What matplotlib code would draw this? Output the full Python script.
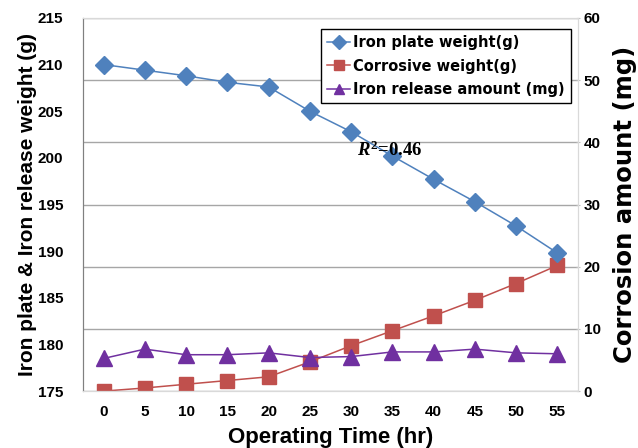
import matplotlib
matplotlib.use("Agg")
import matplotlib.pyplot as plt
import numpy as np

HOURS = ["0", "5", "10", "15", "20", "25", "30", "35", "40", "45", "50", "55"]
IRON_PLATE_G = [210.0, 209.4, 208.8, 208.1, 207.6, 205.0, 202.8, 200.2, 197.7, 195.3, 192.7, 189.8]
IRON_RELEASE = [178.5, 179.5, 178.9, 178.9, 179.1, 178.6, 178.7, 179.2, 179.2, 179.5, 179.1, 179.0]
CORROSIVE = [0.0, 0.5, 1.1, 1.7, 2.3, 4.7, 7.3, 9.7, 12.1, 14.6, 17.3, 20.2]

COLORS = {
    "plate": "#4F81BD",
    "corrosive": "#C0504D",
    "release": "#7030A0",
}

plt.rcParams["font.family"] = ["Liberation Sans", "DejaVu Sans"]
# R^2 note is set in a Times-like bold serif
plt.rcParams["mathtext.fontset"] = "custom"
plt.rcParams["mathtext.it"] = "Liberation Serif:italic:bold"
plt.rcParams["mathtext.bf"] = "Liberation Serif:bold"
plt.rcParams["mathtext.rm"] = "Liberation Serif:bold"

fig = plt.figure(figsize=(6.38, 4.48), dpi=100)
ax1 = fig.add_axes([0.130, 0.127, 0.776, 0.833])
ax2 = ax1.twinx()
ax1.set_zorder(ax2.get_zorder() + 1)
ax1.patch.set_visible(False)

x = np.arange(len(HOURS))

l1, = ax1.plot(x, IRON_PLATE_G, color=COLORS["plate"], linewidth=1.1, marker="D",
               markersize=9, label="Iron plate weight(g)")
l3, = ax1.plot(x, IRON_RELEASE, color=COLORS["release"], linewidth=1.1, marker="^",
               markersize=11, label="Iron release amount (mg)")
l2, = ax2.plot(x, CORROSIVE, color=COLORS["corrosive"], linewidth=1.1, marker="s",
               markersize=10, label="Corrosive weight(g)")

ax1.set_xlim(-0.5, len(HOURS) - 0.5)
ax1.set_ylim(175, 215)
ax1.set_yticks(np.arange(175, 216, 5))
ax2.set_ylim(0, 60)
ax2.set_yticks(np.arange(0, 61, 10))
ax1.set_xticks(x)
ax1.set_xticklabels(HOURS)

ax2.grid(True, axis="y", color="#A6A6A6", linewidth=1.0)
ax2.set_axisbelow(True)

for ax in (ax1, ax2):
    for side in ("top", "right", "bottom"):
        ax.spines[side].set_color("#D9D9D9")
    ax.spines["left"].set_color("#808080")

ax1.tick_params(axis="y", length=0, labelsize=11, pad=14)
ax1.tick_params(axis="x", length=0, labelsize=11, pad=10)
ax2.tick_params(axis="y", length=3, direction="inout", color="#BFBFBF", labelsize=11, pad=2.5)
for lbl in ax1.get_xticklabels() + ax1.get_yticklabels() + ax2.get_yticklabels():
    lbl.set_fontweight("bold")

ax1.set_xlabel("Operating Time (hr)", fontsize=16, fontweight="bold", labelpad=6)
ax1.set_ylabel("Iron plate & Iron release weight (g)", fontsize=15, fontweight="bold", labelpad=1)
ax2.set_ylabel("Corrosion amount (mg)", fontsize=17.5, fontweight="bold", labelpad=9,
               family="DejaVu Sans")

ax1.text(6.95, 200.8, r"$\mathit{R}^{\mathbf{2}}$=0.46", fontsize=13.5,
         family="Liberation Serif", fontweight="bold", ha="center", va="center")

leg = ax1.legend(handles=[l1, l2, l3], loc="upper right", bbox_to_anchor=(1.0, 0.99),
                 fancybox=False, edgecolor="black", framealpha=1, borderpad=0.4,
                 handlelength=1.6, handletextpad=0.2, labelspacing=0.6,
                 prop={"family": "DejaVu Sans", "weight": "bold", "size": 10.5})
leg.get_frame().set_linewidth(1.0)
for h in leg.legend_handles:
    h.set_markersize(7)

fig.savefig("out.png", dpi=100)
